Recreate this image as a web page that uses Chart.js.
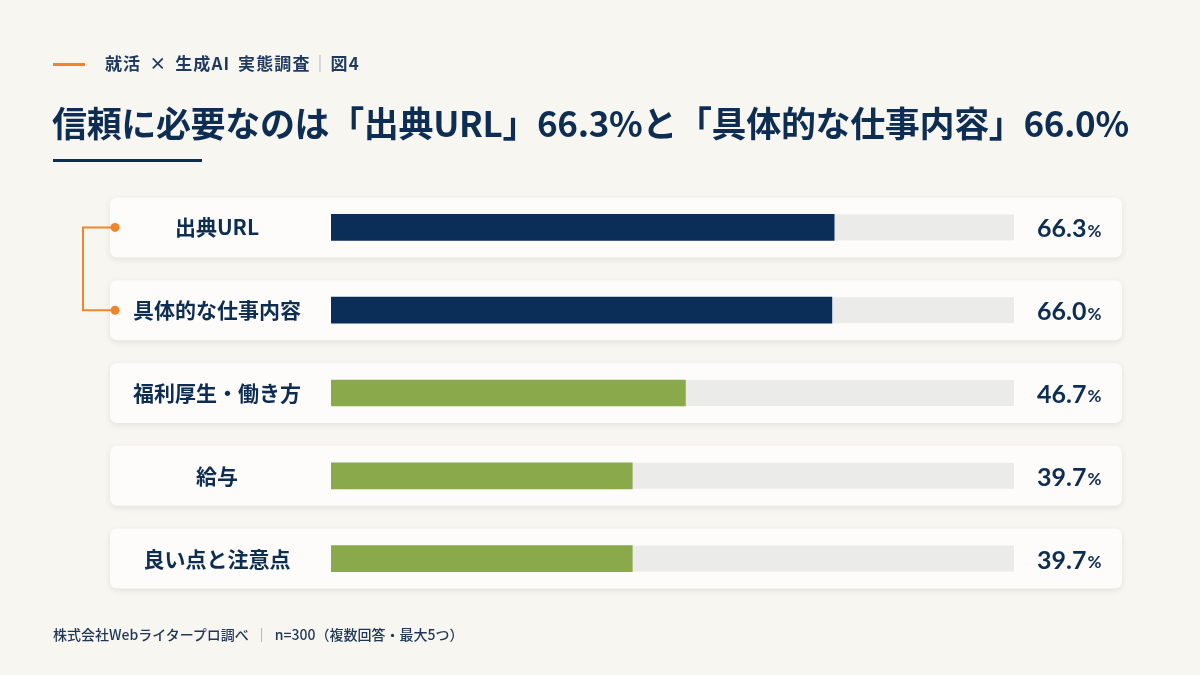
<!DOCTYPE html>
<html lang="ja">
<head>
<meta charset="utf-8">
<script src="https://cdn.jsdelivr.net/npm/chart.js@4/dist/chart.umd.min.js"></script>
<style>
  html, body { margin: 0; padding: 0; }
  body {
    width: 1200px; height: 675px; overflow: hidden; position: relative;
    background: #f8f6f1;
    font-family: "Noto Sans CJK JP", "Noto Sans", sans-serif;
    color: #0d2d52;
  }
  .kicker-line { position: absolute; left: 53px; top: 63px; width: 32px; height: 3px; background: #f0862a; }
  .kicker { position: absolute; left: 105px; top: 50px; font-size: 17px; font-weight: 700; color: #1d3a5e; letter-spacing: 1.1px; word-spacing: 3px; }
  .kicker .sep { color: #9aa3ae; font-weight: 400; margin: 0 1px; }
  h1 { position: absolute; left: 52px; top: 96px; margin: 0; font-size: 35px; font-weight: 700; color: #0d2d52; white-space: nowrap; letter-spacing: -0.35px; }
  .rule { position: absolute; left: 53px; top: 159px; width: 149px; height: 3px; background: #0d2d52; }
  .note { position: absolute; left: 53px; top: 624px; font-size: 14px; font-weight: 500; color: #1f3656; }
  .note .sep { color: #8a93a0; margin: 0 6px; }
  #wrap { position: absolute; left: 0; top: 0; width: 1200px; height: 675px; }
</style>
</head>
<body>
<div id="wrap"><canvas id="trustChart" width="1200" height="675"></canvas></div>
<div class="kicker-line"></div>
<div class="kicker">就活 × 生成AI 実態調査<span class="sep">｜</span>図4</div>
<h1>信頼に必要なのは「出典URL」66.3%と「具体的な仕事内容」66.0%</h1>
<div class="rule"></div>
<div class="note">株式会社Webライタープロ調べ<span class="sep">｜</span>n=300（複数回答・最大5つ）</div>
<script>
// 回答項目と割合(%)
var categories = ['出典URL', '具体的な仕事内容', '福利厚生・働き方', '給与', '良い点と注意点'];
var values = [66.3, 66.0, 46.7, 39.7, 39.7];
var topCount = 2; // 上位2項目を強調

var NAVY = '#0b2e58';
var GREEN = '#8aa94b';
var TRACK = '#ebebea';
var ORANGE = '#f0862a';
var axisMax = 90;

var ctx = document.getElementById('trustChart').getContext('2d');

function roundRect(c, x, y, w, h, r) {
    c.beginPath();
    c.moveTo(x + r, y);
    c.lineTo(x + w - r, y);
    c.quadraticCurveTo(x + w, y, x + w, y + r);
    c.lineTo(x + w, y + h - r);
    c.quadraticCurveTo(x + w, y + h, x + w - r, y + h);
    c.lineTo(x + r, y + h);
    c.quadraticCurveTo(x, y + h, x, y + h - r);
    c.lineTo(x, y + r);
    c.quadraticCurveTo(x, y, x + r, y);
    c.closePath();
}

var cardsPlugin = {
    id: 'cards',
    beforeDraw: function (chart) {
        var c = chart.ctx;
        var area = chart.chartArea;
        var y = chart.scales.y;
        c.save();
        categories.forEach(function (label, i) {
            var cy = y.getPixelForValue(i);
            // カード
            c.save();
            c.shadowColor = 'rgba(40, 40, 30, 0.10)';
            c.shadowBlur = 6;
            c.shadowOffsetY = 2;
            c.fillStyle = '#fdfcfa';
            roundRect(c, 110, cy - 30, 1012, 60, 8);
            c.fill();
            c.restore();
            // トラック
            c.fillStyle = TRACK;
            c.fillRect(area.left, cy - 13, area.right - area.left, 26);
        });
        // 上位2項目をつなぐブラケット
        var y0 = y.getPixelForValue(0);
        var y1 = y.getPixelForValue(1);
        c.strokeStyle = ORANGE;
        c.lineWidth = 2;
        c.beginPath();
        c.moveTo(115, y0);
        c.lineTo(83, y0);
        c.lineTo(83, y1);
        c.lineTo(115, y1);
        c.stroke();
        c.fillStyle = ORANGE;
        [y0, y1].forEach(function (py) {
            c.beginPath();
            c.arc(115, py, 4.5, 0, Math.PI * 2);
            c.fill();
        });
        c.restore();
    },
    afterDatasetsDraw: function (chart) {
        var c = chart.ctx;
        var y = chart.scales.y;
        c.save();
        c.fillStyle = '#0d2d52';
        c.textBaseline = 'middle';
        c.textAlign = 'left';
        values.forEach(function (v, i) {
            var cy = y.getPixelForValue(i) + 2;
            var num = v.toFixed(1);
            c.font = '700 25px Lato';
            c.fillText(num, 1037, cy);
            var w = c.measureText(num).width;
            c.font = '700 17px Lato';
            c.fillText('%', 1037 + w + 1, cy + 2);
        });
        c.restore();
    }
};

var trustChart = new Chart(ctx, {
    type: 'bar',
    data: {
        labels: categories,
        datasets: [{
            data: values,
            backgroundColor: values.map(function (v, i) { return i < topCount ? NAVY : GREEN; }),
            barThickness: 26,
            borderWidth: 0
        }]
    },
    options: {
        indexAxis: 'y',
        responsive: false,
        animation: false,
        events: [],
        layout: { padding: { left: 110, right: 186, top: 186, bottom: 75 } },
        scales: {
            x: {
                display: false,
                min: 0,
                max: axisMax
            },
            y: {
                grid: { display: false },
                border: { display: false },
                afterFit: function (axis) { axis.width = 221; },
                ticks: {
                    crossAlign: 'center',
                    padding: 22,
                    color: '#0d2d52',
                    font: { family: '"Noto Sans CJK JP"', size: 21, weight: '700' }
                }
            }
        },
        plugins: {
            legend: { display: false },
            tooltip: { enabled: false }
        }
    },
    plugins: [cardsPlugin]
});
</script>
</body>
</html>
